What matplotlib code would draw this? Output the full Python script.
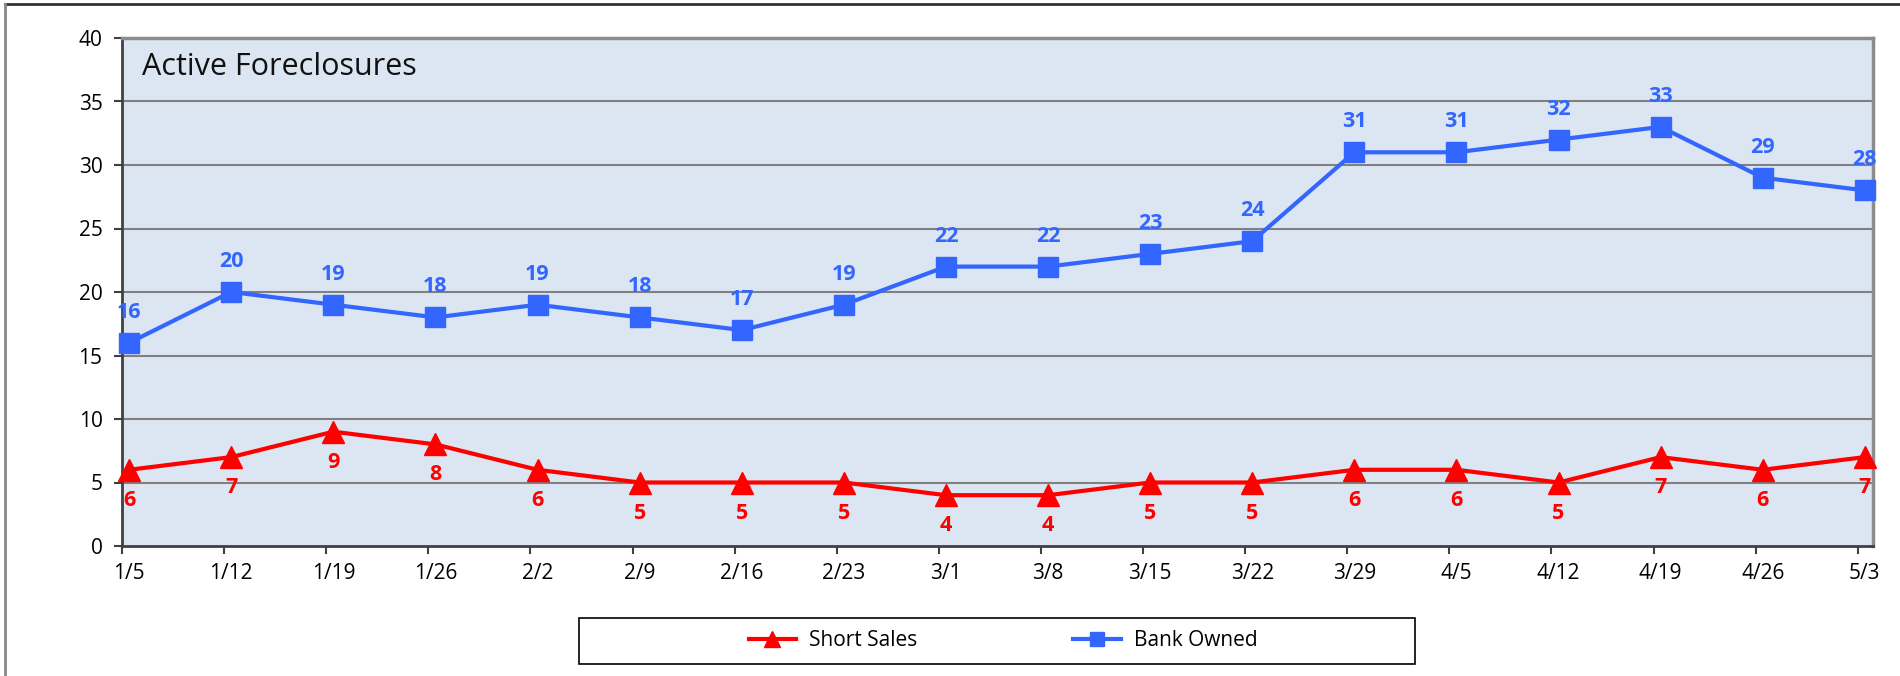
import numpy as np
import matplotlib
matplotlib.use("Agg")
import matplotlib.pyplot as plt
from matplotlib.lines import Line2D
from matplotlib.patches import Rectangle

plt.rcParams['font.family'] = ['Open Sans', 'DejaVu Sans']

# data
semanas = ["1/5", "1/12", "1/19", "1/26", "2/2", "2/9", "2/16", "2/23", "3/1",
           "3/8", "3/15", "3/22", "3/29", "4/5", "4/12", "4/19", "4/26", "5/3"]
short_sales = [6, 7, 9, 8, 6, 5, 5, 5, 4, 4, 5, 5, 6, 6, 5, 7, 6, 7]
bank_owned = [16, 20, 19, 18, 19, 18, 17, 19, 22, 22, 23, 24, 31, 31, 32, 33, 29, 28]

cor_vermelho = "#FF0000"
cor_azul = "#3366FF"

fig = plt.figure(figsize=(19, 6.76), dpi=100)
W, H = 1900, 676
# eixo em pixeis: esquerda 122, direita 1873, topo 38, fundo 546
ax = fig.add_axes([122 / W, 1 - 546 / H, (1873 - 122) / W, (546 - 38) / H])
ax.set_facecolor("#DCE6F2")

x_ticks = np.arange(len(semanas))
x = x_ticks + 0.07

ax.plot(x, short_sales, color=cor_vermelho, lw=3, marker="^", ms=16, zorder=3, clip_on=False)
ax.plot(x, bank_owned, color=cor_azul, lw=3, marker="s", ms=14, zorder=3, clip_on=False)

# etiquetas dos valores
for xi, v in zip(x, bank_owned):
    ax.annotate(str(v), (xi, v), xytext=(0, 22), textcoords="offset points",
                ha="center", va="center", color=cor_azul, fontsize=15.5, fontweight="bold")
for xi, v in zip(x, short_sales):
    ax.annotate(str(v), (xi, v), xytext=(0, -22), textcoords="offset points",
                ha="center", va="center", color=cor_vermelho, fontsize=15.5, fontweight="bold")

ax.set_xlim(0, (1873 - 122) / 102.1)
ax.set_ylim(0, 40)
ax.set_yticks(range(0, 41, 5))
# marcas nas posições inteiras, rótulos alinhados com os pontos
ax.set_xticks(x)
ax.set_xticklabels(semanas)
ax.set_xticks(x_ticks, minor=True)
ax.tick_params(axis="x", which="major", length=0, pad=12)
ax.tick_params(axis="x", which="minor", length=6, width=1.5, color="#404040")
ax.tick_params(axis="both", which="major", labelsize=15, color="#404040")
ax.tick_params(axis="y", length=6, width=1.5, pad=8)

for yy in range(5, 40, 5):
    ax.axhline(yy, color="#808080", lw=1.5, zorder=1)

ax.spines["left"].set_color("#404040")
ax.spines["bottom"].set_color("#404040")
ax.spines["left"].set_linewidth(2)
ax.spines["bottom"].set_linewidth(2)
ax.spines["top"].set_color("#8c8c8c")
ax.spines["right"].set_color("#8c8c8c")
ax.spines["top"].set_linewidth(2.5)
ax.spines["right"].set_linewidth(2.5)

ax.text(142 / W, 1 - 67 / H, "Active Foreclosures", transform=fig.transFigure,
        fontsize=22, va="center", ha="left", color="#111111")

# legenda
fig.patches.append(Rectangle((579 / W, 1 - 664 / H), (1415 - 579) / W, 46 / H,
                             transform=fig.transFigure, fill=False, ec="black", lw=1.2))
handles = [Line2D([], [], color=cor_vermelho, lw=3, marker="^", ms=11),
           Line2D([], [], color=cor_azul, lw=3, marker="s", ms=10)]
fig.legend(handles, ["Short Sales", "Bank Owned"], loc="center",
           bbox_to_anchor=(1003 / W, 1 - 641 / H), ncol=2, frameon=False,
           fontsize=15, handlelength=2.3, columnspacing=7.5, handletextpad=0.6)

# moldura exterior
fig.add_artist(Line2D([5 / W, 1], [1 - 4 / H, 1 - 4 / H], transform=fig.transFigure,
                      color="#333333", lw=2))
fig.add_artist(Line2D([5 / W, 5 / W], [0, 1 - 4 / H], transform=fig.transFigure,
                      color="#888888", lw=2))

fig.savefig("out.png", dpi=100)
